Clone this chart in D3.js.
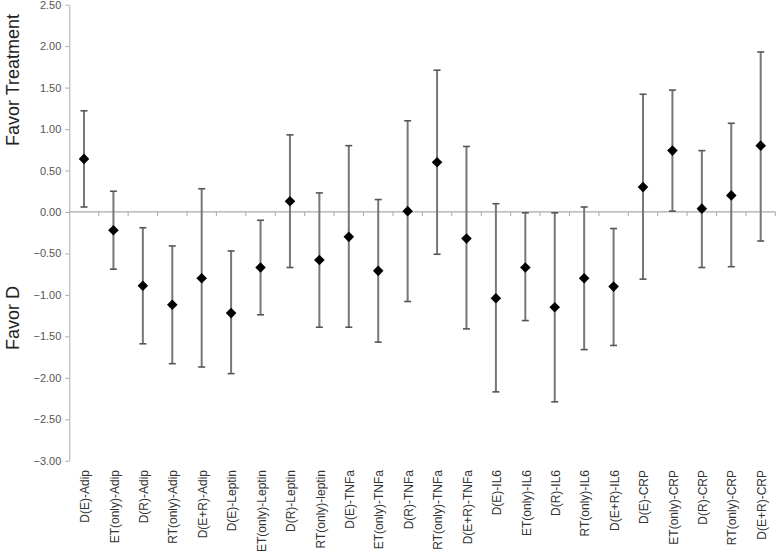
<!DOCTYPE html>
<html><head><meta charset="utf-8">
<script src="https://cdn.jsdelivr.net/npm/d3@7"></script>
<style>body{margin:0;background:#fff}svg{display:block}</style>
</head><body><svg id="c" width="778" height="559"></svg>
<script>
const categories = ["D(E)-Adip","ET(only)-Adip","D(R)-Adip","RT(only)-Adip","D(E+R)-Adip",
 "D(E)-Leptin","ET(only)-Leptin","D(R)-Leptin","RT(only)-leptin",
 "D(E)-TNFa","ET(only)-TNFa","D(R)-TNFa","RT(only)-TNFa","D(E+R)-TNFa",
 "D(E)-IL6","ET(only)-IL6","D(R)-IL6","RT(only)-IL6","D(E+R)-IL6",
 "D(E)-CRP","ET(only)-CRP","D(R)-CRP","RT(only)-CRP","D(E+R)-CRP"];
const estimate = [0.64,-0.22,-0.89,-1.12,-0.80,-1.22,-0.67,0.13,-0.58,-0.30,-0.71,0.01,0.60,-0.32,-1.04,-0.67,-1.15,-0.80,-0.90,0.30,0.74,0.04,0.20,0.80];
const upper = [1.22,0.25,-0.19,-0.41,0.28,-0.47,-0.10,0.93,0.23,0.80,0.15,1.10,1.71,0.79,0.10,-0.01,-0.01,0.06,-0.20,1.42,1.47,0.74,1.07,1.93];
const lower = [0.06,-0.69,-1.59,-1.83,-1.87,-1.95,-1.24,-0.67,-1.39,-1.39,-1.57,-1.08,-0.51,-1.41,-2.17,-1.31,-2.29,-1.66,-1.61,-0.81,0.01,-0.67,-0.66,-0.35];
const yTicks = [2.5,2.0,1.5,1.0,0.5,0,-0.5,-1.0,-1.5,-2.0,-2.5,-3.0];

const svg = d3.select("#c");
const x = d3.scaleBand().domain(categories).range([69.3, 775.4]);
const y = d3.scaleLinear().domain([-3, 2.5]).range([460.7, 4.7]);
const font = "'Liberation Sans', Arial, sans-serif";

// y axis
const yAxis = svg.append("g").attr("transform","translate(69.3,0)")
  .call(d3.axisLeft(y).tickValues(yTicks).tickFormat(d3.format(".2f")).tickSize(4).tickSizeOuter(0));
yAxis.select(".domain").attr("stroke","#aaa");
yAxis.selectAll(".tick line").attr("stroke","#aaa");
yAxis.selectAll(".tick text").attr("font-family",font).attr("font-size",11).attr("fill","#555").attr("x",-8);

// zero line with ticks
const xAxis = svg.append("g").attr("transform",`translate(0,${y(0)})`);
xAxis.append("line").attr("x1",69.3).attr("x2",775.4).attr("stroke","#aaa").attr("stroke-width",1.2);
const bounds = categories.map((c,i)=>x(c)).concat([x.range()[1]]);
xAxis.selectAll("line.t").data(bounds.slice(1)).join("line").attr("class","t")
  .attr("x1",d=>d).attr("x2",d=>d).attr("y1",0).attr("y2",4).attr("stroke","#aaa");

// x labels
svg.append("g").selectAll("text").data(categories).join("text")
  .attr("transform",d=>`translate(${x(d)+x.bandwidth()/2+1},470) rotate(-90)`)
  .attr("text-anchor","end").attr("dy","0.35em")
  .attr("font-family",font).attr("font-size",12).attr("fill","#333").text(d=>d);

// error bars
const g = svg.append("g");
const cx = i => x(categories[i]) + x.bandwidth()/2;
categories.forEach((c,i)=>{
  g.append("line").attr("x1",cx(i)).attr("x2",cx(i)).attr("y1",y(lower[i])).attr("y2",y(upper[i]))
    .attr("stroke","#777").attr("stroke-width",2);
  [lower[i],upper[i]].forEach(v=>{
    g.append("line").attr("x1",cx(i)-3.5).attr("x2",cx(i)+3.5).attr("y1",y(v)).attr("y2",y(v))
      .attr("stroke","#555").attr("stroke-width",1.6);
  });
});
g.selectAll("path.m").data(estimate).join("path").attr("class","m")
  .attr("d",d3.symbol(d3.symbolDiamond2? d3.symbolSquare : d3.symbolSquare, 56))
  .attr("transform",(d,i)=>`translate(${cx(i)},${y(d)}) rotate(45)`)
  .attr("fill","#000");

// axis titles
svg.append("text").attr("transform","translate(19,80) rotate(-90)").attr("text-anchor","middle")
  .attr("font-family",font).attr("font-size",18).attr("fill","#222").text("Favor Treatment");
svg.append("text").attr("transform","translate(19,318) rotate(-90)").attr("text-anchor","middle")
  .attr("font-family",font).attr("font-size",18).attr("fill","#222").text("Favor D");
</script></body></html>
